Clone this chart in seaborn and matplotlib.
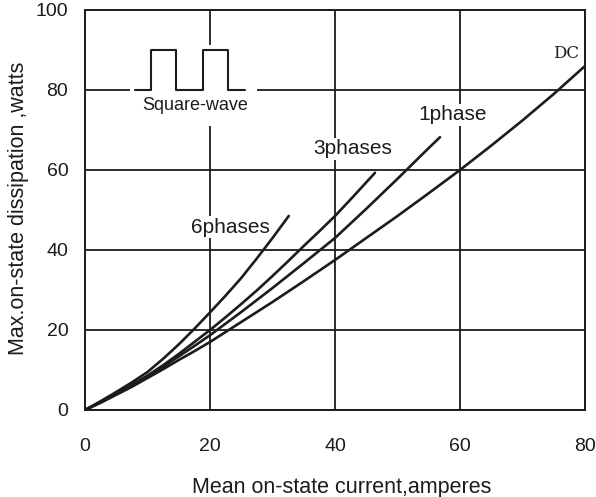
import matplotlib
matplotlib.use("Agg")
from matplotlib import pyplot as plt
from matplotlib.patches import Rectangle
import pandas as pd
import seaborn as sns

### Curve data (current in A, dissipation in W)
dc_x = [0, 2.5, 5, 7.5, 10, 12.5, 15, 17.5, 20, 25, 30, 35, 40, 45, 50, 55, 60, 65, 70, 75, 80]
dc_y = [0, 1.8, 3.8, 5.8, 8, 10.2, 12.5, 14.7, 17, 22, 27, 32.2, 37.5, 43, 48.5, 54.2, 60, 66.1, 72.4, 79, 86]

ph1_x = [0, 2.5, 5, 7.5, 10, 12.5, 15, 17.5, 20, 25, 30, 35, 40, 45, 50, 55, 56.8]
ph1_y = [0, 2, 4, 6.1, 8.3, 10.8, 13.4, 16, 18.7, 24.5, 30.5, 36.7, 43, 50.3, 57.8, 65.5, 68.2]

ph3_x = [0, 2.5, 5, 7.5, 10, 12.5, 15, 17.5, 20, 22.5, 25, 27.5, 30, 32.5, 35, 37.5, 40, 43, 46.4]
ph3_y = [0, 2, 4.1, 6.3, 8.6, 11.2, 14, 17, 20, 23.2, 26.5, 29.9, 33.5, 37.2, 41, 44.7, 48.5, 53.5, 59.3]

ph6_x = [0, 2.5, 5, 7.5, 10, 12.5, 15, 17.5, 20, 22.5, 25, 27.5, 30, 32.6]
ph6_y = [0, 2.2, 4.5, 6.9, 9.5, 12.8, 16.4, 20.3, 24.4, 28.6, 33, 37.9, 43, 48.5]

curve_names = ["DC", "1phase", "3phases", "6phases"]

### Square-wave symbol
sq_x = [8, 10.5, 10.5, 14.6, 14.6, 18.8, 18.8, 22.9, 22.9, 25.6]
sq_y = [80, 80, 90, 90, 80, 80, 90, 90, 80, 80]

x_ticks = [0, 20, 40, 60, 80]
y_ticks = [0, 20, 40, 60, 80, 100]

### Build long dataframe
frames = []
for name, xs, ys in zip(curve_names, [dc_x, ph1_x, ph3_x, ph6_x], [dc_y, ph1_y, ph3_y, ph6_y]):
    frames.append(pd.DataFrame({"current": xs, "power": ys, "curve": name}))
df = pd.concat(frames, ignore_index=True)

sns.set_style("white")
plt.rcParams["font.family"] = ["Liberation Sans", "DejaVu Sans"]

ink = "#1c1c1c"
fig = plt.figure(figsize=(5.96, 4.97), dpi=100)
ax = fig.add_axes([85 / 596, 87 / 497, 500 / 596, 400 / 497])

sns.lineplot(data=df, x="current", y="power", hue="curve", units="curve",
             estimator=None, palette=[ink] * 4, linewidth=1.9, legend=False,
             sort=False, ax=ax, zorder=3)

ax.set_xlim(0, 80)
ax.set_ylim(0, 100)
ax.set_xticks(x_ticks)
ax.set_yticks(y_ticks)
ax.tick_params(axis="x", length=0, pad=20, labelsize=14, colors=ink)
ax.tick_params(axis="y", length=0, pad=12, labelsize=14, colors=ink)
ax.set_xlabel("")
ax.set_ylabel("")
ax.set_axisbelow(True)
ax.grid(True, color=ink, linewidth=1.3)
for s in ax.spines.values():
    s.set_color(ink)
    s.set_linewidth(1.4)

### Square-wave inset
ax.add_patch(Rectangle((7.2, 71), 20.3, 20.3, facecolor="white", edgecolor="none", zorder=1))
ax.plot(sq_x, sq_y, color=ink, linewidth=1.5, zorder=2)
ax.text(17.6, 76, "Square-wave", fontsize=13, color=ink, ha="center", va="center", zorder=4)

### Curve labels
box = dict(facecolor="white", edgecolor="none", pad=1)
ax.text(23.2, 45.7, "6phases", fontsize=15, color=ink, ha="center", va="center", bbox=box, zorder=4)
ax.text(42.8, 65.3, "3phases", fontsize=15, color=ink, ha="center", va="center", bbox=box, zorder=4)
ax.text(58.9, 73.8, "1phase", fontsize=15, color=ink, ha="center", va="center", bbox=box, zorder=4)
ax.text(77, 89.2, "DC", fontsize=12, color=ink, ha="center", va="center", family="DejaVu Serif", zorder=4)

### Axis titles
fig.text(341.5 / 596, 10 / 497, "Mean on-state current,amperes", fontsize=15.5, color=ink,
         ha="center", va="center")
fig.text(19 / 596, 289 / 497, "Max.on-state dissipation ,watts", fontsize=15.5, color=ink,
         ha="center", va="center", rotation=90)

fig.savefig("out.png", dpi=100)
